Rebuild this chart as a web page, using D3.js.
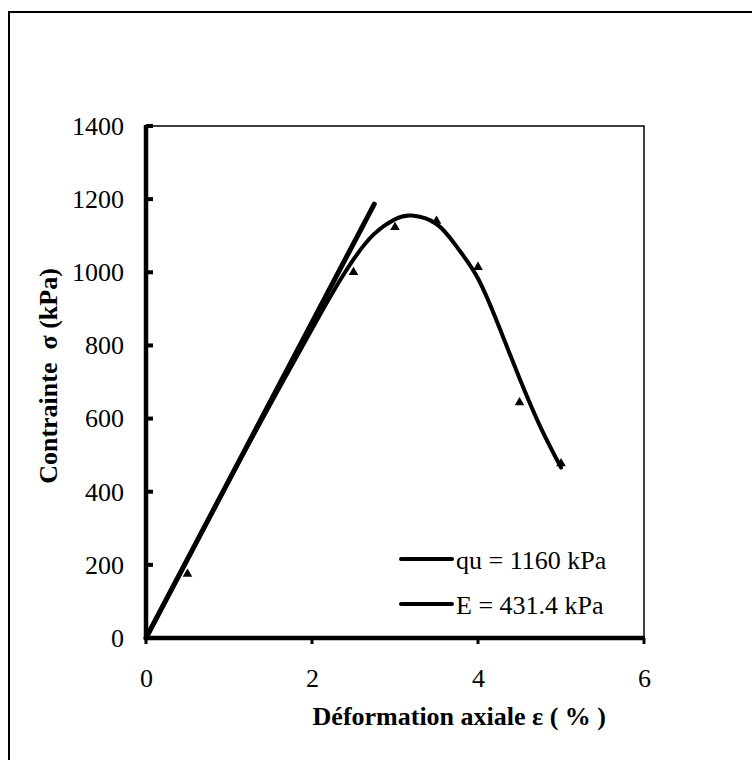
<!DOCTYPE html>
<html>
<head>
<meta charset="utf-8">
<script src="https://cdn.jsdelivr.net/npm/d3@7"></script>
<style>
  body { margin: 0; background: #fff; }
  svg { display: block; }
  text { font-family: "Liberation Serif", "Times New Roman", serif; fill: #000; }
</style>
</head>
<body>
<svg id="chart" width="752" height="760"></svg>
<script>
// Measured points (strain %, stress kPa)
const strain = [0.5, 2.5, 3, 3.5, 4, 4.5, 5];
const stress = [175, 1000, 1123, 1140, 1014, 644, 477];

// Fitted stress-strain curve
const fitStrain = [0, 0.5, 1, 1.5, 2, 2.25, 2.5, 2.75, 3, 3.2, 3.5, 3.75, 4, 4.25, 4.5, 4.75, 5];
const fitStress = [0, 215, 430, 640, 845, 945, 1035, 1105, 1145, 1155, 1132, 1068, 983, 853, 710, 578, 466];

// Initial tangent modulus line
const modulusStrain = [0, 2.75];
const modulusE = 431.4;

const xTicks = [0, 2, 4, 6];
const yTicks = [0, 200, 400, 600, 800, 1000, 1200, 1400];
const legendLabels = ["qu = 1160 kPa", "E = 431.4 kPa"];

const svg = d3.select("#chart");

// outer frame
svg.append("rect")
  .attr("x", 9).attr("y", 12).attr("width", 800).attr("height", 800)
  .attr("fill", "none").attr("stroke", "#000").attr("stroke-width", 2);

const pLeft = 146, pRight = 644, pTop = 126, pBottom = 638;
const x = d3.scaleLinear().domain([0, 6]).range([pLeft, pRight]);
const y = d3.scaleLinear().domain([0, 1400]).range([pBottom, pTop]);

// plot frame (thin top and right edges)
svg.append("path")
  .attr("d", `M${pLeft},${pTop}H${pRight}V${pBottom}`)
  .attr("fill", "none").attr("stroke", "#000").attr("stroke-width", 1.5);

// y axis
const yAxis = svg.append("g")
  .attr("transform", `translate(${pLeft},0)`)
  .call(d3.axisLeft(y).tickValues(yTicks).tickSize(0).tickPadding(22).tickFormat(d3.format("d")));
yAxis.select(".domain").remove();
yAxis.selectAll("text").style("font-size", "26px").attr("font-family", null);
svg.append("g").selectAll("line").data(yTicks).join("line")
  .attr("x1", pLeft).attr("x2", pLeft + 7)
  .attr("y1", d => y(d)).attr("y2", d => y(d))
  .attr("stroke", "#000").attr("stroke-width", 4);

// x axis
const xAxis = svg.append("g")
  .attr("transform", `translate(0,${pBottom})`)
  .call(d3.axisBottom(x).tickValues(xTicks).tickSize(0).tickPadding(31).tickFormat(d3.format("d")));
xAxis.select(".domain").remove();
xAxis.selectAll("text").style("font-size", "26px").attr("font-family", null);
svg.append("g").selectAll("line").data(xTicks).join("line")
  .attr("x1", d => x(d)).attr("x2", d => x(d))
  .attr("y1", pBottom).attr("y2", pBottom + 6)
  .attr("stroke", "#000").attr("stroke-width", 3);

// thick axis lines
svg.append("line").attr("x1", pLeft).attr("x2", pLeft).attr("y1", pTop - 1).attr("y2", pBottom + 2)
  .attr("stroke", "#000").attr("stroke-width", 4.5);
svg.append("line").attr("x1", pLeft - 2).attr("x2", pRight + 1).attr("y1", pBottom).attr("y2", pBottom)
  .attr("stroke", "#000").attr("stroke-width", 4.5);

// data markers
const tri = d3.symbol().type(d3.symbolTriangle).size(40);
svg.append("g").selectAll("path").data(strain.map((s, i) => [s, stress[i]])).join("path")
  .attr("d", tri)
  .attr("transform", d => `translate(${x(d[0])},${y(d[1])})`)
  .attr("fill", "#000");

// fitted curve
const fitData = fitStrain.map((s, i) => [s, fitStress[i]]);
svg.append("path")
  .datum(fitData)
  .attr("d", d3.line().x(d => x(d[0])).y(d => y(d[1])).curve(d3.curveNatural))
  .attr("fill", "none").attr("stroke", "#000").attr("stroke-width", 4)
  .attr("stroke-linecap", "round");

// modulus line
svg.append("path")
  .datum(modulusStrain.map(s => [s, s * modulusE]))
  .attr("d", d3.line().x(d => x(d[0])).y(d => y(d[1])))
  .attr("fill", "none").attr("stroke", "#000").attr("stroke-width", 5)
  .attr("stroke-linecap", "round");

// legend
const legend = svg.append("g");
legendLabels.forEach((label, i) => {
  const ly = 559 + i * 45;
  legend.append("line")
    .attr("x1", 401).attr("x2", 452).attr("y1", ly).attr("y2", ly)
    .attr("stroke", "#000").attr("stroke-width", 4).attr("stroke-linecap", "round");
  legend.append("text")
    .attr("x", 456).attr("y", ly + 10)
    .style("font-size", "26px")
    .text(label);
});

// axis titles
svg.append("text")
  .attr("x", 606).attr("y", 725)
  .attr("text-anchor", "end")
  .style("font-size", "26px").style("font-weight", "bold")
  .text("Déformation axiale ε ( % )");

svg.append("text")
  .attr("transform", "translate(57,376) rotate(-90)")
  .attr("text-anchor", "middle")
  .style("font-size", "26px").style("font-weight", "bold")
  .style("white-space", "pre")
  .text("Contrainte  σ (kPa)");
</script>
</body>
</html>
